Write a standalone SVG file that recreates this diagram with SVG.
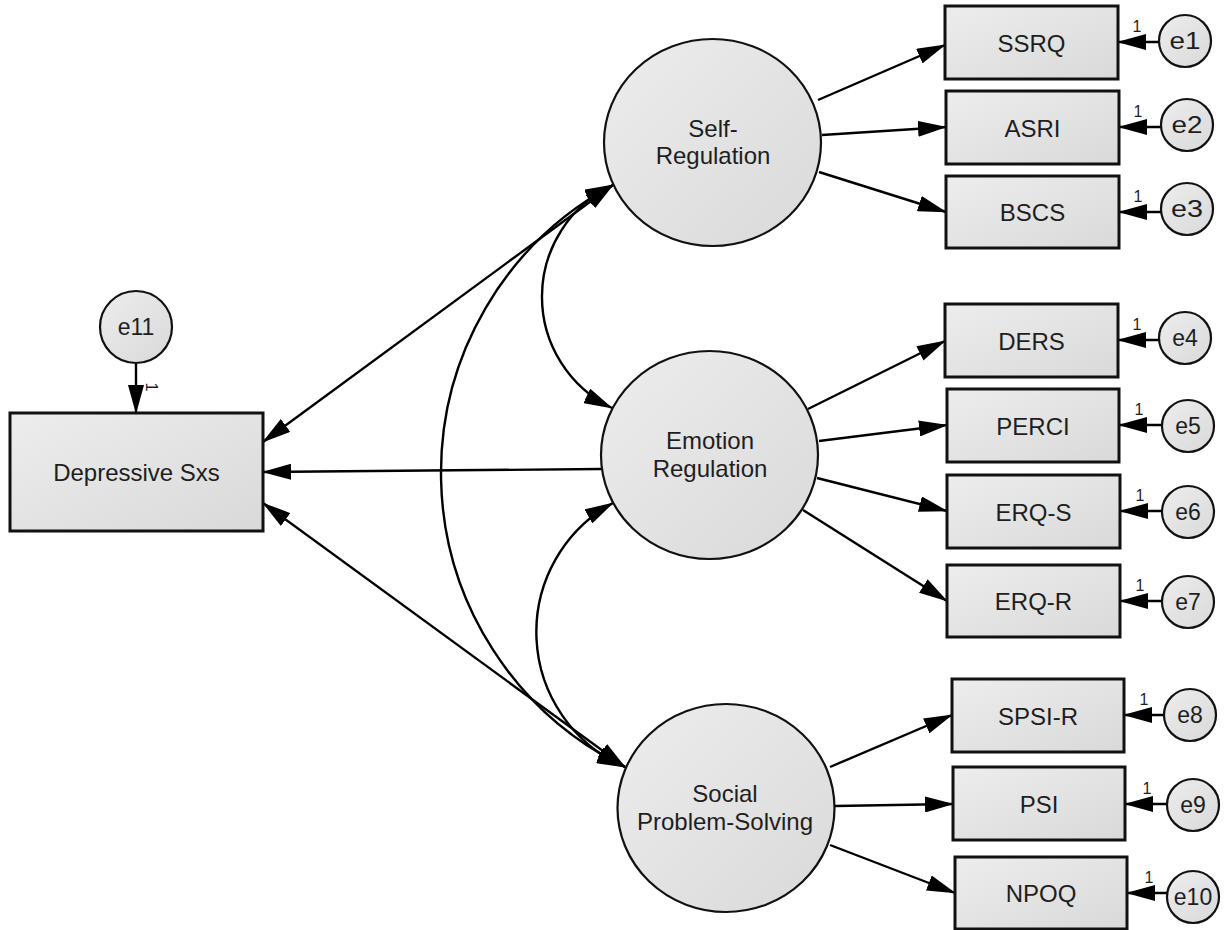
<svg xmlns="http://www.w3.org/2000/svg" width="1231" height="930" viewBox="0 0 1231 930">
  <defs>
    <linearGradient id="shade" x1="0" y1="0" x2="1" y2="1">
      <stop offset="0" stop-color="#ededed"/>
      <stop offset="1" stop-color="#d9d9d9"/>
    </linearGradient>
    <marker id="head" viewBox="0 0 29 16" markerUnits="userSpaceOnUse" markerWidth="29" markerHeight="16" refX="28" refY="8" orient="auto-start-reverse">
      <path d="M0,0 L29,8 L0,16 z" fill="#000"/>
    </marker>
    <style>
      .obs { fill: url(#shade); stroke: #111; stroke-width: 3; }
      .lat { fill: url(#shade); stroke: #111; stroke-width: 2.2; }
      .err { fill: url(#shade); stroke: #111; stroke-width: 2.2; }
      .lbl { font-family: "Liberation Sans", Arial, sans-serif; font-size: 24px; fill: #1e1e1e; text-anchor: middle; }
      .elbl { font-family: "Liberation Sans", Arial, sans-serif; font-size: 23px; fill: #1e1e1e; text-anchor: middle; }
      .wt { font-family: "Liberation Sans", Arial, sans-serif; font-size: 16px; fill: #1e1e1e; text-anchor: middle; }
      .path { fill: none; stroke: #000; stroke-width: 2.4; marker-end: url(#head); }
      .cov { fill: none; stroke: #000; stroke-width: 2.4; marker-start: url(#head); marker-end: url(#head); }
    </style>
  </defs>

  <!-- connectors -->
  <g id="connectors">
    <!-- structural part -->
    <path class="cov" d="M613,185 L263,442"/>
    <path class="path" d="M601,469 L263,472"/>
    <path class="cov" d="M625,767 L263,503"/>
    <!-- factor covariances -->
    <path class="cov" d="M613,185 A123.4,123.4 0 0 0 612,408"/>
    <path class="cov" d="M613,503 A147,147 0 0 0 625,767"/>
    <path class="cov" d="M613,185 A327,327 0 0 0 625,767"/>
    <!-- loadings -->
    <path class="path" d="M818,100 L945,45"/>
    <path class="path" d="M822,135 L946,127"/>
    <path class="path" d="M819,172 L946,212"/>
    <path class="path" d="M808,409 L945,341"/>
    <path class="path" d="M819,441 L947,425"/>
    <path class="path" d="M817,478 L947,511"/>
    <path class="path" d="M803,510 L947,601"/>
    <path class="path" d="M830,767 L952,715"/>
    <path class="path" d="M835,806 L953,804"/>
    <path class="path" d="M830,845 L955,893"/>
    <!-- residual paths -->
    <path class="path" d="M1159,42 L1118,42"/>
    <path class="path" d="M1161,127 L1119,127"/>
    <path class="path" d="M1161,212 L1119,212"/>
    <path class="path" d="M1159,340 L1118,340"/>
    <path class="path" d="M1162,425 L1119,425"/>
    <path class="path" d="M1162,511 L1120,511"/>
    <path class="path" d="M1162,601 L1120,601"/>
    <path class="path" d="M1164,715 L1124,715"/>
    <path class="path" d="M1167,804 L1125,804"/>
    <path class="path" d="M1167,893 L1127,893"/>
    <path class="path" d="M136,363 L136,413"/>
    <!-- fixed weights -->
    <text class="wt" x="1137" y="32">1</text>
    <text class="wt" x="1138" y="117">1</text>
    <text class="wt" x="1138" y="202">1</text>
    <text class="wt" x="1137" y="330">1</text>
    <text class="wt" x="1139" y="415">1</text>
    <text class="wt" x="1140" y="501">1</text>
    <text class="wt" x="1140" y="591">1</text>
    <text class="wt" x="1144" y="705">1</text>
    <text class="wt" x="1147" y="794">1</text>
    <text class="wt" x="1149" y="883">1</text>
    <text class="wt" transform="translate(146,387) rotate(90)">1</text>
  </g>

  <!-- outcome -->
  <g id="depressive">
    <rect class="obs" x="10" y="413" width="253" height="118"/>
    <text class="lbl" x="136.5" y="480.5">Depressive Sxs</text>
  </g>
  <g id="e11">
    <circle class="err" cx="136" cy="327" r="36"/>
    <text class="elbl" x="136" y="335">e11</text>
  </g>

  <!-- latent factors -->
  <g id="self-regulation">
    <ellipse class="lat" cx="712.5" cy="142.5" rx="108.5" ry="103.5"/>
    <text class="lbl" x="713" y="136.5">Self-</text>
    <text class="lbl" x="713" y="164">Regulation</text>
  </g>
  <g id="emotion-regulation">
    <ellipse class="lat" cx="709.5" cy="455" rx="108.5" ry="104"/>
    <text class="lbl" x="710" y="449">Emotion</text>
    <text class="lbl" x="710" y="476.5">Regulation</text>
  </g>
  <g id="social-problem-solving">
    <ellipse class="lat" cx="726" cy="808" rx="108.5" ry="104"/>
    <text class="lbl" x="725" y="801.5">Social</text>
    <text class="lbl" x="725" y="830">Problem-Solving</text>
  </g>

  <!-- indicators -->
  <g id="ssrq"><rect class="obs" x="945" y="6" width="173" height="73"/><text class="lbl" x="1031.5" y="51.5">SSRQ</text></g>
  <g id="asri"><rect class="obs" x="946" y="91" width="173" height="73"/><text class="lbl" x="1032.5" y="136.5">ASRI</text></g>
  <g id="bscs"><rect class="obs" x="946" y="176" width="173" height="72"/><text class="lbl" x="1032.5" y="221">BSCS</text></g>
  <g id="ders"><rect class="obs" x="945" y="304" width="173" height="73"/><text class="lbl" x="1031.5" y="349.5">DERS</text></g>
  <g id="perci"><rect class="obs" x="947" y="389" width="172" height="73"/><text class="lbl" x="1033" y="434.5">PERCI</text></g>
  <g id="erq-s"><rect class="obs" x="947" y="475" width="173" height="73"/><text class="lbl" x="1033.5" y="520.5">ERQ-S</text></g>
  <g id="erq-r"><rect class="obs" x="947" y="565" width="173" height="72"/><text class="lbl" x="1033.5" y="610">ERQ-R</text></g>
  <g id="spsi-r"><rect class="obs" x="952" y="679" width="172" height="73"/><text class="lbl" x="1038" y="724.5">SPSI-R</text></g>
  <g id="psi"><rect class="obs" x="953" y="767" width="172" height="73"/><text class="lbl" x="1039" y="812.5">PSI</text></g>
  <g id="npoq"><rect class="obs" x="955" y="857" width="172" height="72"/><text class="lbl" x="1041" y="902">NPOQ</text></g>

  <!-- residuals -->
  <g id="e1"><circle class="err" cx="1185" cy="41" r="26"/><text class="elbl" x="1185" y="49" textLength="31" lengthAdjust="spacingAndGlyphs">e1</text></g>
  <g id="e2"><circle class="err" cx="1187" cy="125" r="26"/><text class="elbl" x="1187" y="133" textLength="31" lengthAdjust="spacingAndGlyphs">e2</text></g>
  <g id="e3"><circle class="err" cx="1187" cy="209" r="26"/><text class="elbl" x="1187" y="217" textLength="32" lengthAdjust="spacingAndGlyphs">e3</text></g>
  <g id="e4"><circle class="err" cx="1185" cy="338" r="26"/><text class="elbl" x="1185" y="346">e4</text></g>
  <g id="e5"><circle class="err" cx="1188" cy="426" r="26"/><text class="elbl" x="1188" y="434">e5</text></g>
  <g id="e6"><circle class="err" cx="1188" cy="512" r="26"/><text class="elbl" x="1188" y="520">e6</text></g>
  <g id="e7"><circle class="err" cx="1188" cy="602" r="26"/><text class="elbl" x="1188" y="610">e7</text></g>
  <g id="e8"><circle class="err" cx="1190" cy="715" r="26"/><text class="elbl" x="1190" y="723">e8</text></g>
  <g id="e9"><circle class="err" cx="1193" cy="805" r="26"/><text class="elbl" x="1193" y="813">e9</text></g>
  <g id="e10"><circle class="err" cx="1193" cy="897" r="26"/><text class="elbl" x="1193" y="905">e10</text></g>
</svg>
